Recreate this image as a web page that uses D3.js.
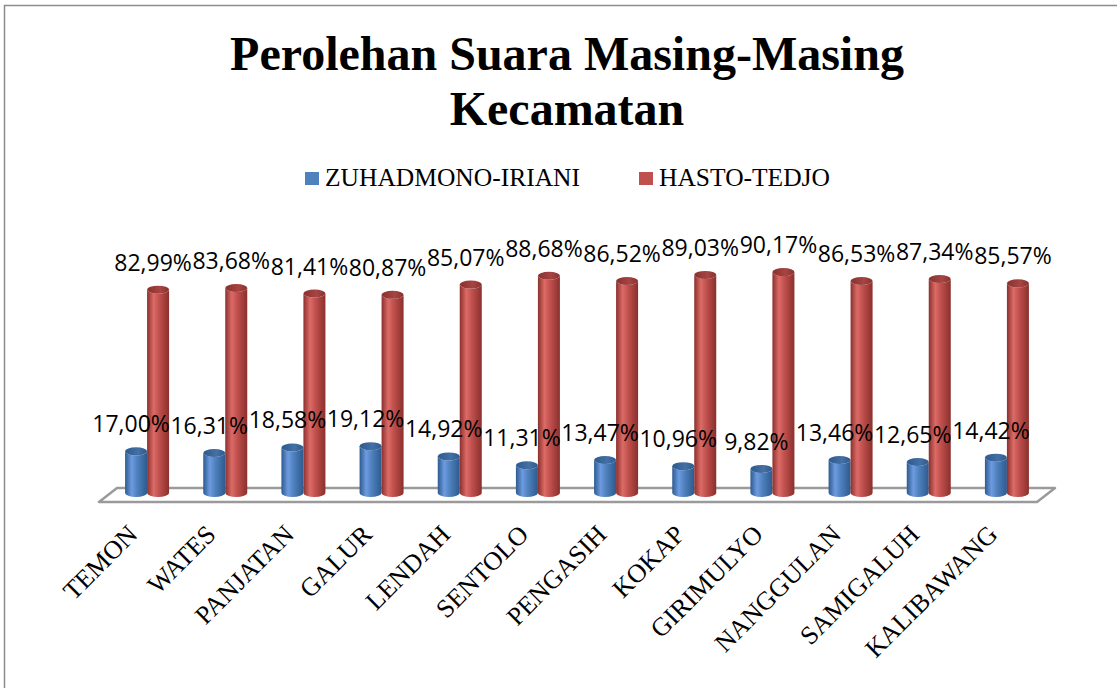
<head>
  <meta charset="UTF-8">
  <script src="https://d3js.org/d3.v7.min.js"></script>
</head>
<body>
  <div id="chartContainer">
    <svg id="chartSVG"></svg>
  </div>
</body>
<style>
  body{margin: 0;background: #fff;}
  .title{font-family: 'Liberation Serif','Times New Roman',serif;font-weight: bold;font-size: 48px;fill: #000;}
  .legendtext{font-family: 'Liberation Serif','Times New Roman',serif;font-size: 25.5px;fill: #000;}
  .catlabel{font-family: 'Liberation Serif','Times New Roman',serif;font-size: 26px;fill: #000;}
  .vallabel{font-family: 'Open Sans',sans-serif;font-size: 23px;fill: #000;}
</style>
<script type="text/javascript">
  const categories=["TEMON","WATES","PANJATAN","GALUR","LENDAH","SENTOLO","PENGASIH","KOKAP","GIRIMULYO","NANGGULAN","SAMIGALUH","KALIBAWANG"];
  const zuhadmono=[17.00,16.31,18.58,19.12,14.92,11.31,13.47,10.96,9.82,13.46,12.65,14.42];
  const hasto=[82.99,83.68,81.41,80.87,85.07,88.68,86.52,89.03,90.17,86.53,87.34,85.57];
  const seriesNames=["ZUHADMONO-IRIANI","HASTO-TEDJO"];
  const titleLines=["Perolehan Suara Masing-Masing","Kecamatan"];

  const width=1117,height=688;
  const colors=["#4F81BD","#C0504D"];
  const dark=["#2d5a8f","#8a302d"];
  const light=["#6d9be0","#dc6b67"];

  const svg=d3.select('#chartSVG')
    .attr('width',width)
    .attr('height',height);

  // chart frame
  svg.append('rect')
    .attr('x',4.5).attr('y',5.5)
    .attr('width',1300).attr('height',1000)
    .attr('fill','#fff')
    .attr('stroke','#8c8c8c')
    .attr('stroke-width',1.5);

  const defs=svg.append('defs');
  colors.forEach((c,i) => {
    const g=defs.append('linearGradient')
      .attr('id','side'+i)
      .attr('x1','0%').attr('x2','100%').attr('y1','0%').attr('y2','0%');
    g.append('stop').attr('offset','0%').attr('stop-color',dark[i]);
    g.append('stop').attr('offset','30%').attr('stop-color',light[i]);
    g.append('stop').attr('offset','55%').attr('stop-color',c);
    g.append('stop').attr('offset','100%').attr('stop-color',dark[i]);
    const t=defs.append('linearGradient')
      .attr('id','top'+i)
      .attr('x1','0%').attr('x2','100%').attr('y1','0%').attr('y2','0%');
    t.append('stop').attr('offset','0%').attr('stop-color',dark[i]);
    t.append('stop').attr('offset','60%').attr('stop-color',d3.color(c).darker(0.4));
    t.append('stop').attr('offset','100%').attr('stop-color',dark[i]);
  });

  // title
  svg.append('text')
    .attr('class','title')
    .attr('text-anchor','middle')
    .selectAll('tspan')
    .data(titleLines)
    .join('tspan')
    .attr('x',567)
    .attr('y',(d,i) => 70+i*55)
    .text(d => d);

  // legend
  const legendX=[305,639];
  const legend=svg.append('g').attr('class','legend')
    .selectAll('g')
    .data(seriesNames)
    .join('g')
    .attr('transform',(d,i) => `translate(${legendX[i]},172)`);
  legend.append('rect')
    .attr('width',14).attr('height',13)
    .attr('fill',(d,i) => colors[i]);
  legend.append('text')
    .attr('class','legendtext')
    .attr('x',20).attr('y',14)
    .text(d => d);

  // 3d floor
  const floorY=502,depthX=18,depthY=-14;
  const x=d3.scaleBand()
    .domain(categories)
    .range([99,1037]);
  const y=d3.scaleLinear()
    .domain([0,100])
    .range([493,248]);

  const [fx0,fx1]=x.range();
  svg.append('path')
    .attr('d',d3.line()([[fx0,floorY],[fx1,floorY],[fx1+depthX,floorY+depthY],[fx0+depthX,floorY+depthY]])+'Z')
    .attr('fill','#fff')
    .attr('stroke','#9a9a9a')
    .attr('stroke-width',2.5)
    .attr('stroke-linejoin','round');

  const center=c => x(c)+x.bandwidth()/2+depthX/2;
  const barW=22,ry=4;

  const rows=[];
  categories.forEach((c,i) => {
    rows.push({cat: c,s: 0,v: zuhadmono[i],cx: center(c)-barW/2});
    rows.push({cat: c,s: 1,v: hasto[i],cx: center(c)+barW/2});
  });

  const cylPath=d => {
    const x0=d.cx-barW/2,x1=d.cx+barW/2,t=y(d.v),b=y(0);
    return `M${x0},${t}L${x0},${b}A${barW/2},${ry} 0 0 0 ${x1},${b}L${x1},${t}A${barW/2},${ry} 0 0 1 ${x0},${t}Z`;
  };

  const bars=svg.append('g').attr('class','bars')
    .selectAll('g')
    .data(rows)
    .join('g');
  bars.append('path')
    .attr('d',cylPath)
    .attr('fill',d => `url(#side${d.s})`);
  bars.append('ellipse')
    .attr('cx',d => d.cx)
    .attr('cy',d => y(d.v))
    .attr('rx',barW/2)
    .attr('ry',ry)
    .attr('fill',d => `url(#top${d.s})`);

  // value labels
  const fmt=v => d3.format('.2f')(v).replace('.',',')+'%';
  svg.append('g').attr('class','vallabels')
    .selectAll('text')
    .data(rows)
    .join('text')
    .attr('class','vallabel')
    .attr('text-anchor','middle')
    .attr('x',d => d.cx-5)
    .attr('y',d => y(d.v)-19)
    .text(d => fmt(d.v));

  // category labels
  svg.append('g').attr('class','catlabels')
    .selectAll('text')
    .data(categories)
    .join('text')
    .attr('class','catlabel')
    .attr('text-anchor','end')
    .attr('transform',d => `translate(${center(d)-8},536) rotate(-45)`)
    .text(d => d);
</script>
